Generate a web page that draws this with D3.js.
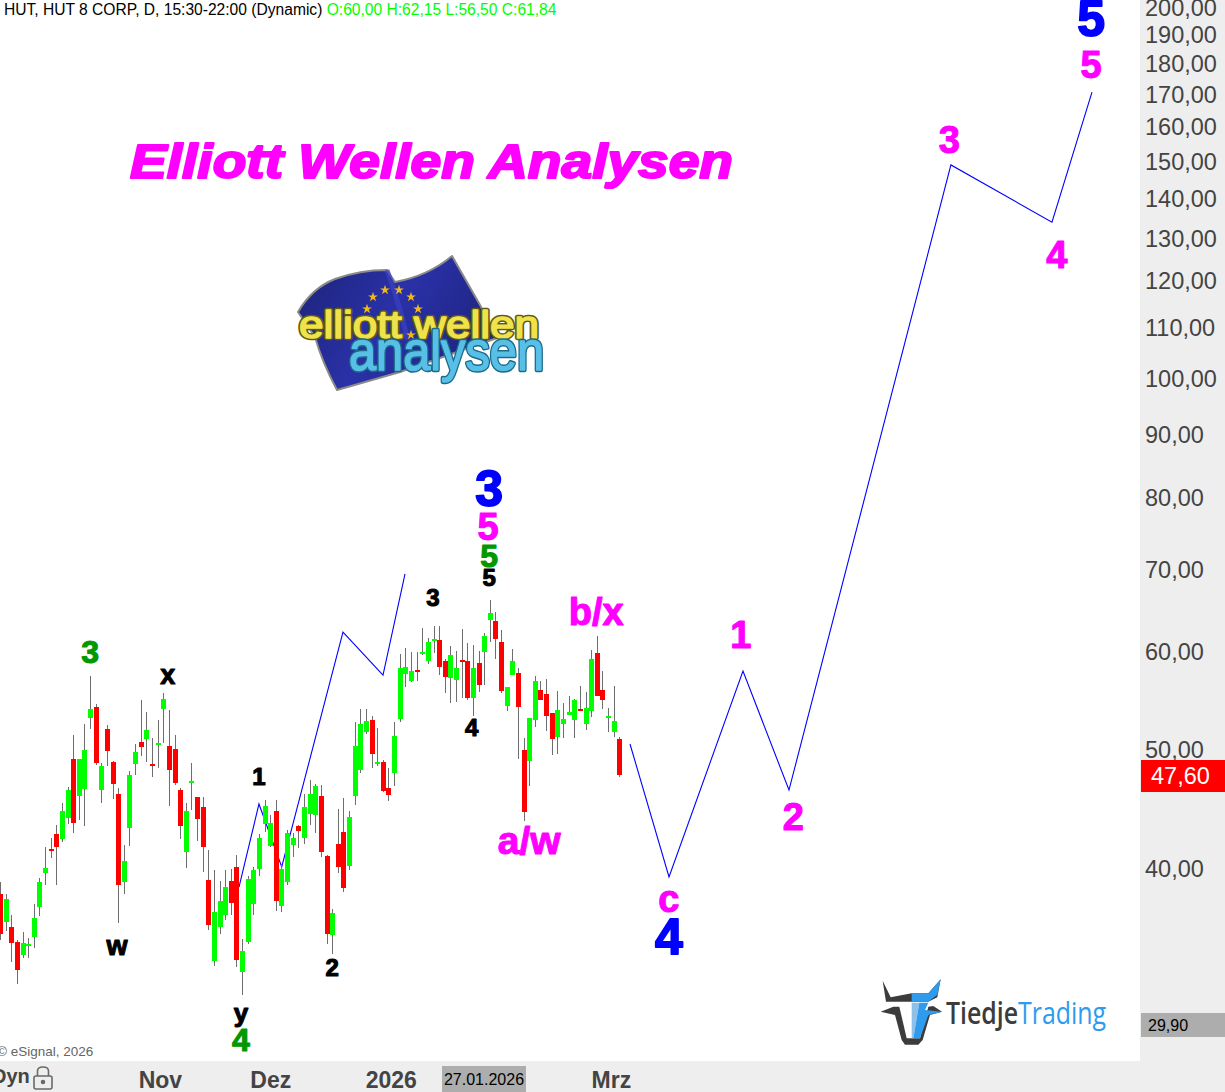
<!DOCTYPE html>
<html><head><meta charset="utf-8">
<script src="https://cdn.jsdelivr.net/npm/d3@7"></script>
<style>html,body{margin:0;padding:0;background:#fff;overflow:hidden}svg{display:block}text{font-family:"Liberation Sans",Arial,sans-serif}</style>
</head><body><svg id="c" width="1225" height="1092"></svg>
<script>
const opens=[38.14,36.19,35.85,34.86,34.03,34.61,35.20,37.22,39.66,41.48,42.66,42.26,43.95,49.07,45.80,46.40,52.98,54.09,46.31,51.91,48.80,45.97,39.00,43.14,48.62,50.66,50.94,48.62,50.38,53.88,50.28,50.00,46.31,41.24,46.93,45.71,44.88,39.15,33.65,35.85,36.66,39.07,40.11,32.97,34.86,37.43,39.95,43.46,41.71,44.54,37.29,39.00,41.79,43.30,42.34,44.28,44.20,45.80,40.94,35.32,41.87,42.82,40.19,45.80,48.08,51.62,52.78,48.62,48.80,46.48,47.80,52.88,57.51,56.78,57.95,59.72,58.94,61.17,61.29,58.94,57.09,56.88,59.05,58.94,55.00,58.72,59.94,63.63,63.51,61.06,54.19,57.40,57.62,49.91,48.89,52.78,55.83,55.40,53.48,51.14,52.38,53.28,52.78,53.88,52.38,53.68,59.83,55.83,52.98,51.62,50.94];
const highs=[39.00,38.14,36.66,34.99,35.52,35.12,37.43,39.30,41.63,42.34,43.38,45.20,46.57,51.33,49.07,52.38,57.31,54.39,48.71,52.28,48.89,46.48,41.79,47.99,50.47,54.79,53.58,51.04,52.78,55.52,53.78,51.33,46.48,45.20,48.71,45.71,45.71,41.40,39.88,39.07,39.88,39.95,41.02,35.05,39.43,40.11,42.66,45.46,44.20,45.46,40.26,42.98,42.74,43.38,45.97,47.19,46.84,46.75,41.02,37.08,44.70,45.63,44.54,52.58,53.88,53.88,53.18,52.00,48.98,48.26,52.58,59.72,60.38,59.94,59.94,62.69,61.52,62.93,62.93,59.16,60.60,60.05,62.57,60.95,60.72,60.05,62.10,66.05,64.59,62.45,56.14,60.27,58.17,51.04,52.98,57.31,56.78,56.99,53.48,55.73,54.49,55.20,54.89,56.24,55.62,60.16,61.75,57.84,53.98,56.24,51.14];
const lows=[34.99,35.58,33.58,32.24,33.84,33.84,34.48,36.61,38.78,40.79,38.78,42.02,43.46,42.74,43.79,43.30,51.91,48.53,45.20,48.44,45.55,36.13,38.14,41.71,47.63,49.35,48.80,47.46,48.26,50.57,44.96,46.75,42.26,40.03,44.62,42.10,39.73,35.65,33.34,35.39,36.33,36.66,33.28,31.58,34.73,36.66,39.43,42.82,41.63,36.94,36.87,38.78,40.86,41.56,41.87,43.38,42.74,40.86,34.73,34.09,39.66,38.28,39.88,45.04,47.80,51.42,48.26,48.44,46.14,45.38,46.66,52.58,56.14,56.67,56.78,59.61,58.61,59.83,57.40,55.52,54.49,54.59,55.00,54.79,53.18,55.62,56.35,61.06,59.16,55.52,53.68,57.40,49.07,43.71,46.66,52.10,54.79,51.72,49.44,49.54,51.04,53.28,51.04,53.68,51.81,53.08,55.20,53.88,51.62,51.14,47.46];
const closes=[35.39,37.78,34.79,33.09,34.79,34.73,36.47,39.00,40.03,41.32,41.63,44.54,46.31,43.54,49.07,49.91,53.88,48.71,48.44,49.82,46.84,38.78,40.56,47.63,49.72,50.19,51.81,48.44,50.57,54.89,48.08,46.93,43.30,44.54,47.10,43.87,41.63,35.99,36.87,37.64,38.63,37.50,33.71,34.28,39.22,39.88,42.34,44.96,43.54,37.64,39.95,42.74,42.34,42.90,44.88,45.97,46.66,41.24,35.39,36.80,40.11,38.57,44.03,50.28,52.38,52.68,49.54,48.80,46.23,45.88,51.23,58.17,58.28,57.84,57.73,59.94,61.06,61.40,58.28,57.20,59.61,58.17,58.83,55.00,58.17,56.35,61.75,64.47,61.40,55.73,56.14,58.94,54.09,44.45,52.98,56.78,54.79,53.18,50.94,53.78,52.88,53.58,54.79,53.68,53.98,59.16,55.20,54.79,53.18,52.68,47.60];

const waveA=[[42.45,38.63],[46.0,45.12],[50.04,40.11],[60.92,62.21],[68.03,57.40],[71.94,69.35]];
const waveB=[[111.9,50.47],[118.83,39.37],[131.97,57.84],[140.14,46.31],[168.9,148.9],[186.85,133.8],[193.96,170.6]];

const priceTicks=[200,190,180,170,160,150,140,130,120,110,100,90,80,70,60,50,40];
const monthTicks=[[28.4,"Nov"],[48,"Dez"],[69.4,"2026"],[108.5,"Mrz"]];
const lastPrice=47.60, lowPrice=29.90;

const BLUE="#0000ff",MAG="#ff00ff",GRN="#009900",BLK="#000000";
const waveLabels=[
 ["5",193.8,195.6,BLUE,50],["5",193.8,179.5,MAG,38],["3",168.6,156,MAG,38],["4",187.7,125.8,MAG,38],
 ["1",131.6,61.87,MAG,38],["2",140.9,44.03,MAG,38],["c",118.8,37.78,MAG,38],["4",118.8,35.2,BLUE,50],
 ["b/x",105.9,64.59,MAG,38],["a/w",94,42.1,MAG,39],["3",86.9,81.3,BLUE,50],["5",86.7,75.7,MAG,38],
 ["5",86.9,71.7,GRN,32],["5",86.9,68.8,BLK,24],["3",76.9,66.3,BLK,24],["3",16,59.94,GRN,32],
 ["x",29.8,57.4,BLK,27],["w",20.8,34.6,BLK,27],["1",46,47.5,BLK,24],["y",42.8,30.5,BLK,26],
 ["4",42.8,29.0,GRN,32],["2",59,33.2,BLK,24],["4",83.8,52.0,BLK,24]];

const svg=d3.select("#c");
const x=d3.scaleLinear().domain([0,110]).range([0,619.3]);
const y=d3.scaleLog().domain([200,50]).range([7,749]);

/* wave projections, behind the candles */
const line=d3.line().x(d=>x(d[0])).y(d=>y(d[1]));
svg.selectAll("path.wave").data([waveA,waveB]).join("path").attr("class","wave")
  .attr("d",line).attr("fill","none").attr("stroke","#0000ff").attr("stroke-width",1.1);

/* candles */
const cx=i=>Math.round(x(i));
const g=svg.append("g");
g.selectAll("rect.w").data(d3.range(opens.length)).join("rect").attr("class","w")
  .attr("x",i=>cx(i)).attr("width",1)
  .attr("y",i=>Math.round(y(highs[i]))).attr("height",i=>Math.max(1,Math.round(y(lows[i]))-Math.round(y(highs[i]))))
  .attr("fill","#6e6e6e");
g.selectAll("rect.b").data(d3.range(opens.length)).join("rect").attr("class","b")
  .attr("x",i=>cx(i)-2).attr("width",5)
  .attr("y",i=>Math.round(y(Math.max(opens[i],closes[i]))))
  .attr("height",i=>Math.max(2,Math.round(y(Math.min(opens[i],closes[i])))-Math.round(y(Math.max(opens[i],closes[i])))))
  .attr("fill",i=>closes[i]>=opens[i]?"#00ff00":"#ff0000");

/* title and header */
svg.append("text").attr("x",130).attr("y",177.5).attr("font-size",49).attr("font-weight","bold").attr("font-style","italic")
  .attr("fill","#ff00ff").attr("stroke","#ff00ff").attr("stroke-width",2.2).attr("stroke-linejoin","round").attr("textLength",603).attr("lengthAdjust","spacingAndGlyphs")
  .text("Elliott Wellen Analysen");
const hdr=svg.append("text").attr("x",4).attr("y",15).attr("font-size",15.6);
hdr.append("tspan").attr("fill","#000").text("HUT, HUT 8 CORP, D, 15:30-22:00 (Dynamic) ");
hdr.append("tspan").attr("fill","#00ff00").text("O:60,00 H:62,15 L:56,50 C:61,84");
svg.append("text").attr("x",-3).attr("y",1056).attr("font-size",13.5).attr("fill","#666").text("© eSignal, 2026");

/* Elliott logo */
const logo=svg.append("g");
const defs=svg.append("defs");
const fg=defs.append("linearGradient").attr("id","flag").attr("x1",0).attr("y1",0).attr("x2",1).attr("y2",.4);
fg.append("stop").attr("offset",0).attr("stop-color","#1c2378");
fg.append("stop").attr("offset",.55).attr("stop-color","#2a31a8");
fg.append("stop").attr("offset",1).attr("stop-color","#1f2583");
logo.append("path").attr("d","M298,312 Q312,288 335,279 Q360,270 387,270 L395,282 Q428,276 452,256 L480,305 L497,338 L400,372 L337,390 Q322,362 315,337 Z")
  .attr("fill","url(#flag)").attr("stroke","#8a8a8a").attr("stroke-width",2).attr("stroke-linejoin","round");
logo.append("path").attr("d","M387,270 Q398,300 408,340").attr("fill","none").attr("stroke","#3a42c4").attr("stroke-width",5).attr("opacity",.7);
const star=d3.symbol().type(d3.symbolStar).size(30);
[[373,297],[385,290],[399,290],[411,297],[418,309],[367,309],[417,322],[411,335]].forEach(p=>
  logo.append("path").attr("d",star()).attr("transform",`translate(${p[0]},${p[1]})`).attr("fill","#f0b818"));
const lt=(t,xx,yy,fs,w,outer,inner)=>{
  [[outer,4.5],[inner,1.6]].forEach(s=>logo.append("text").attr("x",xx).attr("y",yy).attr("font-size",fs).attr("textLength",w).attr("lengthAdjust","spacingAndGlyphs")
    .attr("fill",s[0]).attr("stroke",s[0]).attr("stroke-width",s[1]).attr("stroke-linejoin","round").text(t));
};
lt("elliott wellen",299,338,38,240,"#5f5a14","#efe24a");
lt("analysen",349,370,56,195,"#1c6a8a","#58bfe6");

/* TiedjeTrading logo */
const bull=svg.append("g").attr("transform","translate(860,960) scale(0.3333)");
bull.append("path").attr("d","M68,62 L92,112 L155,100 L155,125 L78,125 Z M242,58 L232,112 L205,125 L155,125 L155,100 L205,100 Z").attr("fill","#3c3c3c");
bull.append("path").attr("d","M155,100 L205,100 L242,58 L232,104 L205,125 L155,125 Z").attr("fill","#2e9bef");
bull.append("path").attr("d","M62,155 L100,140 L118,140 L140,235 L180,235 L205,140 L220,138 L246,155 L210,165 L188,240 L175,254 L135,254 L125,240 L105,165 Z").attr("fill","#3c3c3c");
bull.append("path").attr("d","M155,128 L178,128 L160,235 L155,235 Z").attr("fill","#8fc0e8");
bull.append("path").attr("d","M178,128 L205,128 L195,150 L246,155 L205,165 L180,235 L160,235 Z").attr("fill","#2e9bef");
const tj=svg.append("text").attr("x",946).attr("y",1024).attr("font-size",31).attr("textLength",160).attr("lengthAdjust","spacingAndGlyphs").style("font-family","'Open Sans'");
tj.append("tspan").attr("fill","#3c3c3c").attr("font-weight",600).text("Tiedje");
tj.append("tspan").attr("fill","#2e9bef").text("Trading");

/* axis panels */
svg.append("rect").attr("x",1140).attr("y",0).attr("width",85).attr("height",1092).attr("fill","#eeeeee");
svg.append("rect").attr("x",0).attr("y",1061).attr("width",1225).attr("height",31).attr("fill","#eeeeee");

const ya=svg.append("g").attr("transform","translate(1145,1)")
  .call(d3.axisRight(y).tickValues(priceTicks).tickSize(0).tickPadding(0).tickFormat(d=>d3.format(".2f")(d).replace(".",",")));
ya.select(".domain").remove();
ya.selectAll("text").attr("font-size",23.5).attr("fill","#444").style("font-family","'Liberation Sans'").attr("text-anchor","start");

svg.append("rect").attr("x",1141).attr("y",Math.round(y(lastPrice))-15).attr("width",84).attr("height",32).attr("fill","#ff0000");
svg.append("text").attr("x",1151).attr("y",y(lastPrice)+9).attr("font-size",23.5).attr("fill","#fff").text(d3.format(".2f")(lastPrice).replace(".",","));
svg.append("rect").attr("x",1141).attr("y",1013).attr("width",84).attr("height",24).attr("fill","#adadad");
svg.append("text").attr("x",1148).attr("y",1031).attr("font-size",16).attr("fill","#000").text(d3.format(".2f")(lowPrice).replace(".",","));

const xa=svg.append("g").attr("transform","translate(0,1061)")
  .call(d3.axisBottom(x).tickValues(monthTicks.map(d=>d[0])).tickSize(0).tickPadding(0)
    .tickFormat(d=>monthTicks.find(m=>m[0]===d)[1]));
xa.select(".domain").remove();
xa.selectAll("text").attr("font-size",23).attr("font-weight","bold").attr("fill","#444").attr("y",6).attr("dy","0.9em").style("font-family","'Liberation Sans'");
svg.append("rect").attr("x",442).attr("y",1066).attr("width",84).attr("height",26).attr("fill","#adadad");
svg.append("text").attr("x",484).attr("y",1085).attr("text-anchor","middle").attr("font-size",16).attr("fill","#000").text("27.01.2026");
svg.append("text").attr("x",-8).attr("y",1083).attr("font-size",20).attr("font-weight","bold").attr("fill","#444").text("Dyn");
const lock=svg.append("g").attr("fill","none").attr("stroke","#6a6a6a").attr("stroke-width",1.6);
lock.append("rect").attr("x",34).attr("y",1076).attr("width",18).attr("height",13).attr("rx",2);
lock.append("path").attr("d","M37.5,1076 V1071 Q37.5,1067 43,1067 Q48.5,1067 48.5,1071 V1076");
lock.append("circle").attr("cx",43).attr("cy",1082).attr("r",1.5).attr("fill","#6a6a6a");

/* wave counts */
svg.selectAll("text.lab").data(waveLabels).join("text").attr("class","lab")
  .attr("x",d=>x(d[1])).attr("y",d=>y(d[2])).attr("dy","0.34em").attr("text-anchor","middle")
  .attr("font-weight","bold").attr("font-size",d=>d[4]).attr("fill",d=>d[3]).attr("stroke",d=>d[3])
  .attr("stroke-width",d=>d[4]>=45?1.8:1.1).attr("stroke-linejoin","round").text(d=>d[0]);
</script></body></html>
